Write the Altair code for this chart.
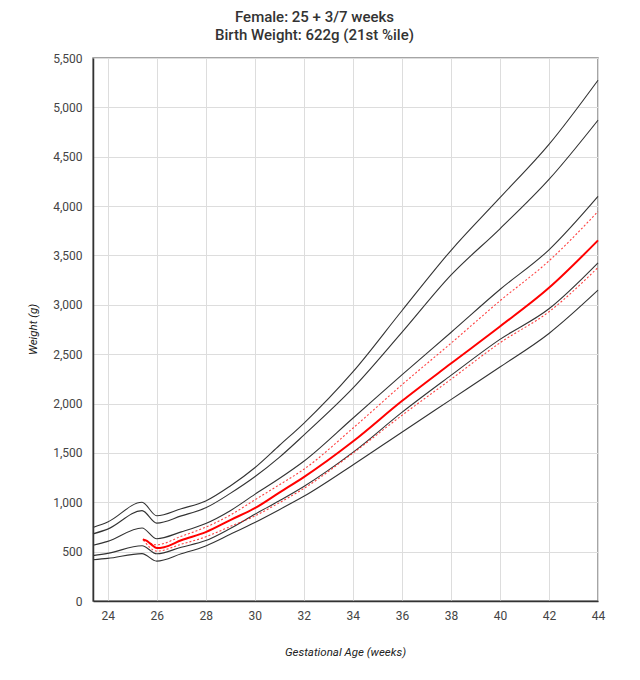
import altair as alt
import pandas as pd

# Reference percentile curves (g) by gestational age (weeks)
weeks = [23.4, 24, 25.4, 26, 27, 28, 29, 30, 31, 32, 34, 36, 38, 40, 42, 44]
p97 = [745, 800, 1000, 863, 935, 1013, 1165, 1350, 1575, 1800, 2320, 2940, 3550, 4085, 4625, 5275]
p90 = [680, 728, 915, 789, 862, 944, 1090, 1258, 1455, 1680, 2155, 2720, 3300, 3770, 4270, 4870]
p50 = [565, 604, 740, 631, 700, 785, 915, 1080, 1240, 1415, 1851, 2290, 2720, 3155, 3557, 4098]
p10 = [460, 482, 560, 478, 545, 612, 735, 878, 1015, 1160, 1505, 1910, 2285, 2650, 2960, 3425]
p3 = [418, 432, 480, 404, 478, 558, 675, 795, 925, 1060, 1378, 1710, 2040, 2370, 2710, 3148]

# Baby's projected curve and band
baby_weeks = [25.43, 25.6, 25.8, 26, 26.3, 27, 28, 29, 30, 31, 32, 34, 36, 38, 40, 42, 44]
baby = [624, 608, 568, 536, 545, 615, 698, 820, 940, 1098, 1255, 1615, 2025, 2405, 2780, 3172, 3653]
band_weeks = [25.45, 26, 27, 28, 29, 30, 31, 32, 34, 36, 38, 40, 42, 44]
band_upper = [626, 570, 655, 748, 870, 1024, 1177, 1334, 1750, 2190, 2610, 3040, 3445, 3945]
band_lower = [618, 505, 575, 650, 755, 861, 995, 1140, 1497, 1880, 2245, 2615, 2930, 3378]

x_ticks = list(range(24, 45, 2))
y_ticks = list(range(0, 5501, 500))

ref_rows = []
for name, vals in [("p97", p97), ("p90", p90), ("p50", p50), ("p10", p10), ("p3", p3)]:
    for w, v in zip(weeks, vals):
        ref_rows.append({"week": w, "weight": v, "series": name})
df_ref = pd.DataFrame(ref_rows)

df_baby = pd.DataFrame({"week": baby_weeks, "weight": baby})

band_rows = []
for name, vals in [("upper", band_upper), ("lower", band_lower)]:
    for w, v in zip(band_weeks, vals):
        band_rows.append({"week": w, "weight": v, "series": name})
df_band = pd.DataFrame(band_rows)

x_enc = alt.X(
    "week:Q",
    scale=alt.Scale(domain=[23.4, 44], nice=False, zero=False),
    axis=alt.Axis(values=x_ticks, title="Gestational Age (weeks)", format="d",
                  titleX=252, titleY=51, titleBaseline="middle", labelPadding=9,
                  labelFlush=False),
)
y_enc = alt.Y(
    "weight:Q",
    scale=alt.Scale(domain=[0, 5500], nice=False),
    axis=alt.Axis(values=y_ticks, title="Weight (g)", format=",.0f",
                  titleX=-60, titleY=271, titleBaseline="middle", labelPadding=11,
                  labelFlush=False),
)

ref_lines = alt.Chart(df_ref).mark_line(
    color="#333333", strokeWidth=1.1, interpolate="monotone"
).encode(x=x_enc, y=y_enc, detail="series:N")

band_lines = alt.Chart(df_band).mark_line(
    color="#ff0000", strokeWidth=1.1, strokeDash=[2, 2], opacity=0.75, interpolate="monotone"
).encode(x="week:Q", y="weight:Q", detail="series:N")

baby_line = alt.Chart(df_baby).mark_line(
    color="#ff0000", strokeWidth=2, interpolate="monotone"
).encode(x="week:Q", y="weight:Q")

chart = alt.layer(ref_lines, band_lines, baby_line).properties(
    width=505,
    height=543,
    title=alt.TitleParams(
        text=["Female: 25 + 3/7 weeks", "Birth Weight: 622g (21st %ile)"],
        font="Roboto", fontSize=15, fontWeight=500, color="#333333",
        lineHeight=18, anchor="middle", frame="group", dx=-31, offset=9,
    ),
    padding={"left": 85, "top": 50, "right": 30, "bottom": 70},
    autosize=alt.AutoSizeParams(type="none"),
).configure_view(
    stroke="#888888", strokeWidth=1.5
).configure_axis(
    domainColor="#333333", domainWidth=1.5,
    gridColor="#dddddd", gridWidth=1,
    ticks=False, tickSize=0,
    labelColor="#444444", labelFont="Roboto", labelFontSize=12,
    titleFont="Roboto", titleFontSize=11.5, titleFontStyle="italic",
    titleFontWeight="normal", titleColor="#222222",
)

chart.save("out.html", embed_options={"renderer": "svg", "actions": False})
